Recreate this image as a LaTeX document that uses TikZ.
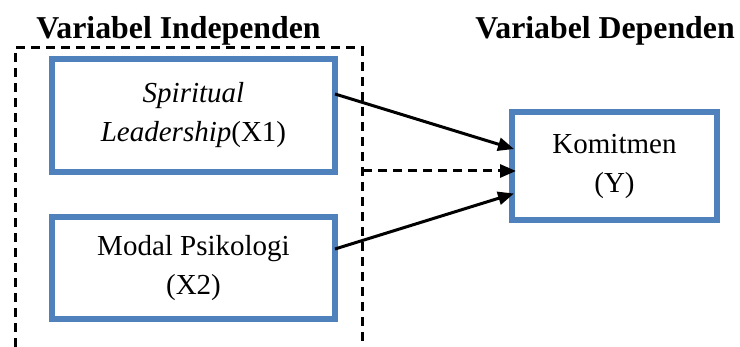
\documentclass[tikz,border=0pt]{standalone}
\usepackage{fontspec}
\setmainfont{Liberation Serif}
\usetikzlibrary{arrows.meta,calc}
\definecolor{boxblue}{RGB}{79,129,189}
\tikzset{
  varbox/.style={draw=boxblue, line width=6pt, fill=white, inner sep=0pt, align=center,
    font=\fontsize{29}{39}\selectfont},
  title/.style={font=\bfseries\fontsize{31.8}{38}\selectfont, inner sep=0pt, anchor=base},
  conn/.style={line width=3pt, -{Triangle[length=16pt,width=13pt]}},
  dashline/.style={line width=3pt, dash pattern=on 9pt off 6pt}
}
\begin{document}
\begin{tikzpicture}[x=1pt,y=-1pt]
\useasboundingbox (0,0) rectangle (740,347);
\node[title] (ti) at (178.5,39) {Variabel Independen};
\node[title] (td) at (605,39) {Variabel Dependen};
\coordinate (bl) at (15,347);
\coordinate (tl) at (15,48);
\coordinate (tr) at (362,48);
\coordinate (br) at (362,347);
\draw[dashline] (bl) -- (tl) -- (tr) -- (br);
\node[varbox, minimum width=283pt, minimum height=113pt] (x1) at (193.5,115.5) {\textit{Spiritual}\\\textit{Leadership}(X1)};
\node[varbox, minimum width=283pt, minimum height=102pt] (x2) at (193.5,268) {Modal Psikologi\\(X2)};
\node[varbox, minimum width=205pt, minimum height=108pt] (y) at (614.5,166) {Komitmen\\(Y)};
\coordinate (d0) at (363,171);
\draw[conn] ($(x1.east)+(-3,-21.5)$) -- ($(y.west)+(5,-17)$);
\draw[conn] ($(x2.east)+(-3,-19)$) -- ($(y.west)+(5,27.5)$);
\draw[conn, dash pattern=on 9pt off 6pt] (d0) -- ($(y.west)+(7,5)$);
\end{tikzpicture}
\end{document}
